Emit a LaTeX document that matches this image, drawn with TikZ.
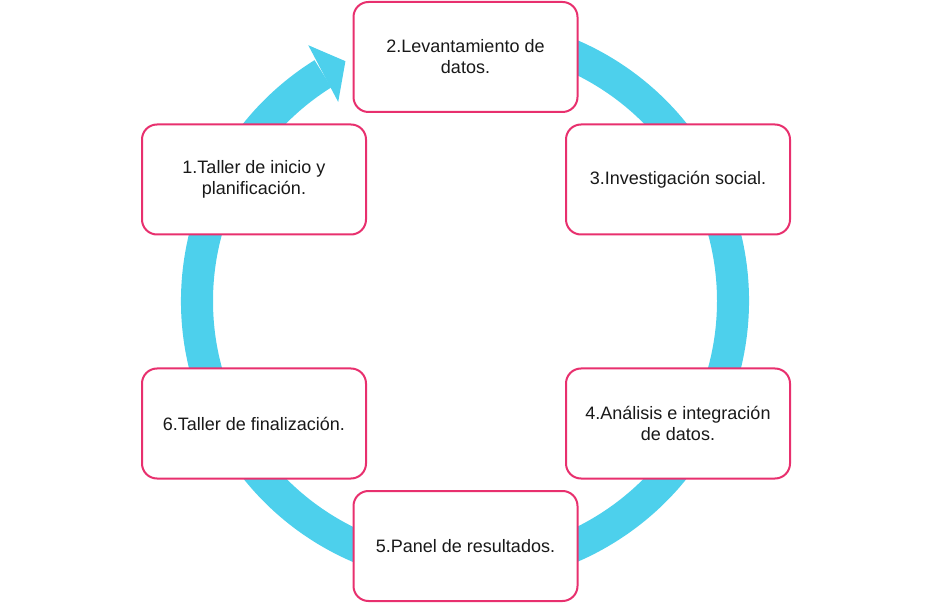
\documentclass[tikz,border=0pt]{standalone}
\usepackage{fontspec}
\setmainfont{Liberation Sans}
\usetikzlibrary{calc}
\definecolor{ringc}{RGB}{77,208,236}
\definecolor{boxc}{RGB}{232,48,110}
\begin{document}
\begin{tikzpicture}[x=1pt,y=1pt,
  stepbox/.style={draw=boxc, line width=2pt, rounded corners=15pt, fill=white,
    minimum width=224pt, minimum height=110pt, align=center,
    font=\fontsize{18}{21}\selectfont, text=black!90}]
\useasboundingbox (0,0) rectangle (932,603);
\coordinate (c) at (465,302);
% ring
\fill[ringc] ($(c)+(122:284)$) arc[start angle=122, end angle=450, radius=284]
  -- ($(c)+(450:252)$) arc[start angle=450, end angle=122, radius=252] -- cycle;
% arrow head
\fill[ringc] ($(c)+(121.5:300)$) -- ($(c)+(116.5:268)$) -- ($(c)+(122.5:236)$) -- cycle;
% boxes
\node[stepbox] (s2) at (465.5,546) {2.Levantamiento de\\datos.};
\node[stepbox] (s3) at (678,423.5) {3.Investigación social.};
\node[stepbox] (s4) at (678,179.5) {4.Análisis e integración\\de datos.};
\node[stepbox] (s5) at (465.5,57) {5.Panel de resultados.};
\node[stepbox] (s6) at (254,179.5) {6.Taller de finalización.};
\node[stepbox] (s1) at (254,423.5) {1.Taller de inicio y\\planificación.};
\end{tikzpicture}
\end{document}
